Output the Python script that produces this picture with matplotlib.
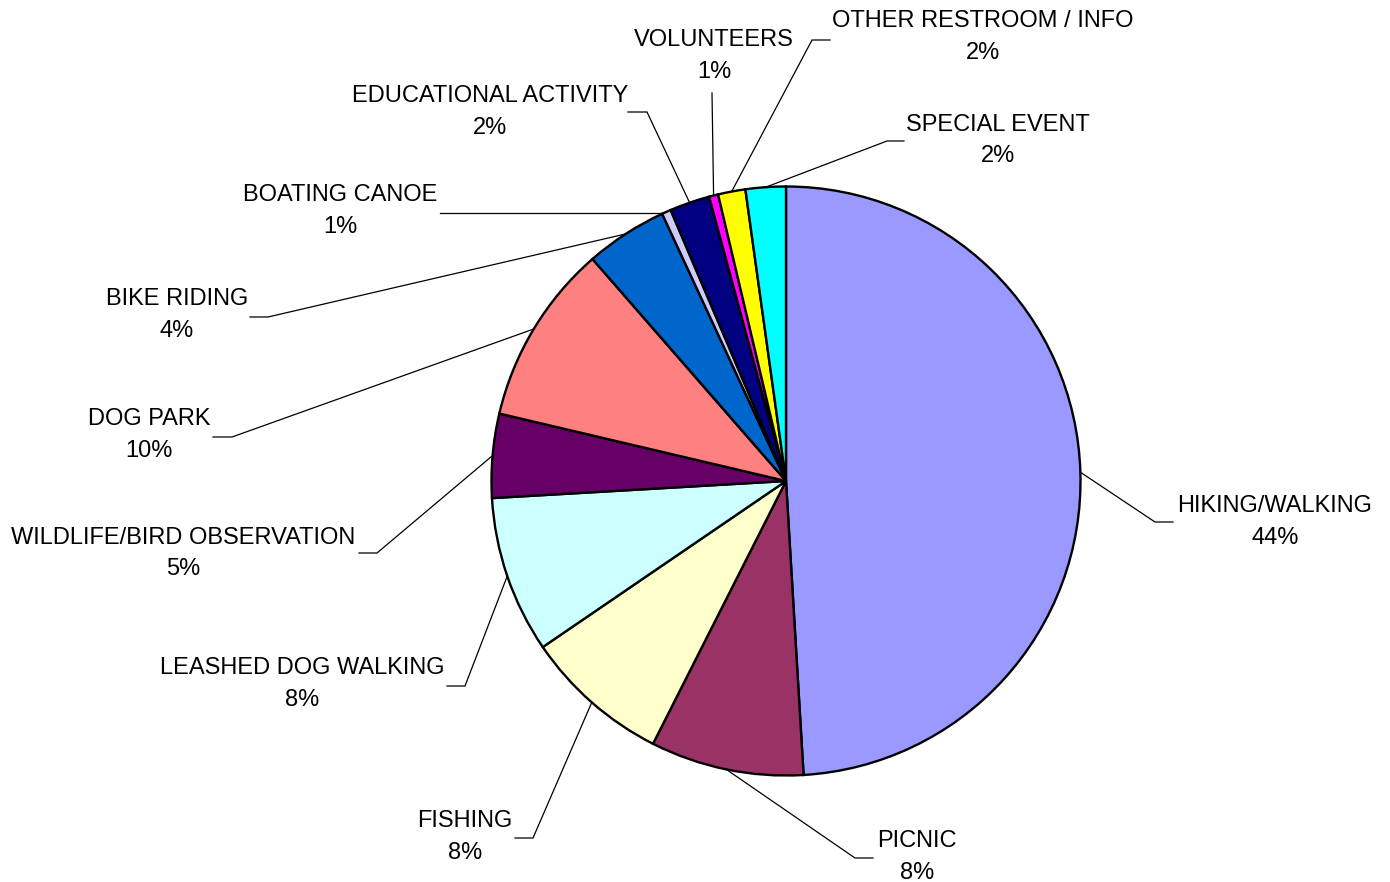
import numpy as np
import matplotlib
matplotlib.use("Agg")
import matplotlib.pyplot as plt

# ---- data ----
categories = ["HIKING/WALKING", "PICNIC", "FISHING", "LEASHED DOG WALKING",
              "WILDLIFE/BIRD OBSERVATION", "DOG PARK", "BIKE RIDING",
              "BOATING CANOE", "EDUCATIONAL ACTIVITY", "VOLUNTEERS",
              "OTHER RESTROOM / INFO", "SPECIAL EVENT"]
values = [49.0, 8.4, 8.0, 8.6, 4.6, 9.9, 4.5, 0.5, 2.2, 0.5, 1.5, 2.2]
pct_labels = ["44%", "8%", "8%", "8%", "5%", "10%", "4%", "1%", "2%", "1%", "2%", "2%"]
colors = ["#9999FF", "#993366", "#FFFFCC", "#CCFFFF", "#660066", "#FF8080",
          "#0066CC", "#CCCCFF", "#000080", "#FF00FF", "#FFFF00", "#00FFFF"]

# ---- layout (pixel coords, y from top) ----
W, H = 1390, 882
center_px = (786, 481)
radius = 294.5
# label centre x, name y, pct y
label_pos = [(1275, 506, 538), (917, 841, 873), (465, 821, 853), (302, 668, 700),
             (183, 538, 569), (149, 419, 451), (177, 299, 331), (340, 195, 227),
             (490, 96, 128), (714, 40, 72), (983, 21, 53), (998, 125, 156)]
# leader elbow (x, y) and horizontal end x
elbows = [(1155, 522, 1173), (855, 858, 873), (533, 838, 515), (465, 686, 447),
          (377, 553, 359), (232, 437, 213), (268, 317, 250), (440, 213, 440),
          (647, 112, 628), (712, 93, 712), (812, 40, 830), (887, 141, 904)]

plt.rcParams['font.family'] = ['Liberation Sans', 'DejaVu Sans']

fig = plt.figure(figsize=(W / 100, H / 100), dpi=100)
ax = fig.add_axes([0, 0, 1, 1])

def Y(y):
    return H - y

cx, cy = center_px[0], Y(center_px[1])
wedges, _ = ax.pie(values, colors=colors, startangle=90, counterclock=False,
                   center=(cx, cy), radius=radius,
                   wedgeprops=dict(edgecolor="black", linewidth=1.7))

ax.set_xlim(0, W)
ax.set_ylim(0, H)
ax.set_aspect('equal')
ax.axis('off')

for i, w in enumerate(wedges):
    mid = np.deg2rad((w.theta1 + w.theta2) / 2)
    sx, sy = cx + radius * np.cos(mid), cy + radius * np.sin(mid)
    ex, ey, hx = elbows[i]
    if i == 7:  # boating canoe: straight horizontal leader
        sy = Y(ey)
    ax.plot([sx, ex, hx], [sy, Y(ey), Y(ey)], color="black", lw=0.9,
            solid_joinstyle='miter', zorder=0)
    lx, ny, py = label_pos[i]
    ax.text(lx, Y(ny), categories[i], ha="center", va="center", fontsize=17)
    ax.text(lx, Y(py), pct_labels[i], ha="center", va="center", fontsize=17)

fig.savefig("out.png", dpi=100)
